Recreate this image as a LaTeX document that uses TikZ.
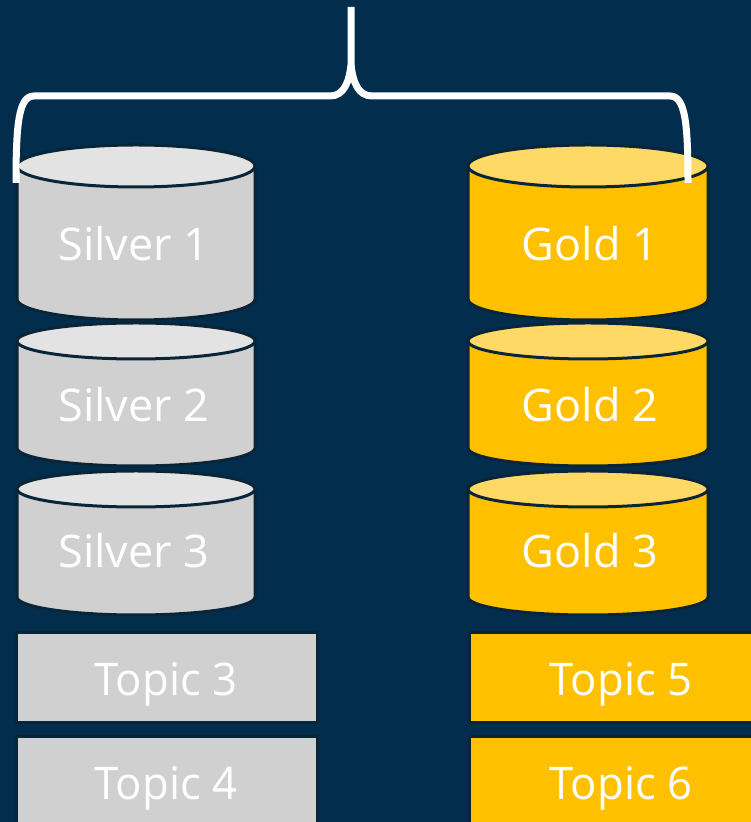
\documentclass[tikz,border=0pt]{standalone}
\usepackage{fontspec}
\setmainfont{Open Sans}
\newfontfamily\topicfont[FakeStretch=0.97]{Open Sans}
\definecolor{navy}{HTML}{032D4D}
\definecolor{rim}{HTML}{0A2538}
\definecolor{silverbody}{HTML}{D0D0D0}
\definecolor{silverlid}{HTML}{E3E3E3}
\definecolor{goldbody}{HTML}{FFC000}
\definecolor{goldlid}{HTML}{FFD966}

\begin{document}
\begin{tikzpicture}[x=1pt, y=1pt, line join=round,
    label/.style={text=white, font=\fontsize{45}{54}\selectfont, anchor=base},
    topic/.style={text=white, font=\topicfont\fontsize{45}{54}\selectfont, anchor=base},
    drum/.style={draw=rim, line width=3pt}]
    \fill[navy] (0,0) rectangle (751,822);
    \useasboundingbox (0,0) rectangle (751,822);
    \clip (0,0) rectangle (751,822);
    % drums: top y / bottom y / end radius
    \foreach \cx/\rx/\body/\lid in {136/119/silverbody/silverlid, 588/120/goldbody/goldlid}
        \foreach \ty/\by/\ry in {656/523/21, 481/374/18, 333/225/18} {
            \filldraw[drum, fill=\body] (\cx-\rx,\ty) -- (\cx-\rx,\by)
                arc[start angle=180, end angle=360, x radius=\rx, y radius=\ry] -- (\cx+\rx,\ty) -- cycle;
            \filldraw[drum, fill=\lid] (\cx,\ty) ellipse[x radius=\rx, y radius=\ry];
        }
    \foreach \n/\y in {1/561, 2/400, 3/254} {
        \node[label] (silver\n) at (134,\y) {Silver \n};
        \node[label] (gold\n) at (590,\y) {Gold \n};
    }
    % topic boxes
    \foreach \y in {99,-5} {
        \filldraw[drum, fill=silverbody] (16,\y) rectangle ++(301,90);
        \filldraw[drum, fill=goldbody] (469,\y) rectangle ++(304,90);
    }
    \node[topic] (topic3) at (166,126) {Topic 3};
    \node[topic] (topic4) at (166,22) {Topic 4};
    \node[topic] (topic5) at (621,126) {Topic 5};
    \node[topic] (topic6) at (621,22) {Topic 6};
    % brace over both stacks
    \draw[white, line width=7pt] (16,639) .. controls (16,700) and (19,726) .. (34,726) -- (330,726)
        .. controls (344,726) and (349,740) .. (351,757) -- (351,815);
    \draw[white, line width=7pt] (351,757) .. controls (353,740) and (358,726) .. (372,726) -- (670,726)
        .. controls (685,726) and (688,700) .. (688,639);
\end{tikzpicture}
\end{document}
